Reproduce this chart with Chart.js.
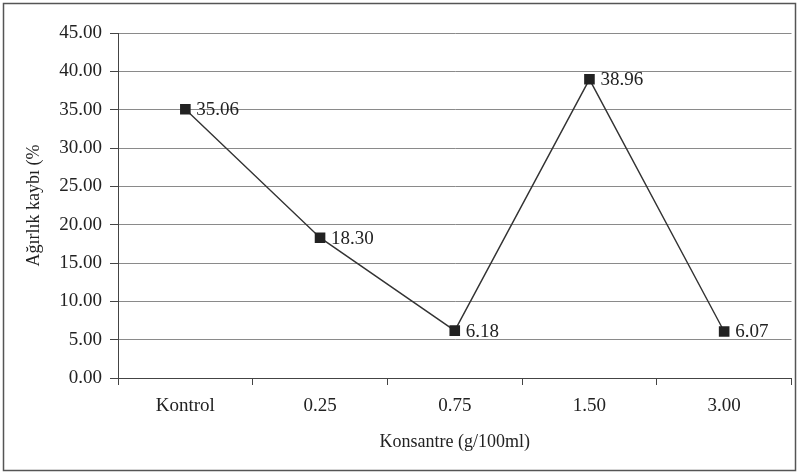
<!DOCTYPE html>
<html>
<head>
<meta charset="utf-8">
<script src="https://cdn.jsdelivr.net/npm/chart.js@4"></script>
<style>
  html, body { margin: 0; padding: 0; background: #fff; }
  #wrap { width: 799px; height: 476px; }
</style>
</head>
<body>
<div id="wrap"><canvas id="myChart" width="799" height="476"></canvas></div>
<script>
// chart data
const categories = ['Kontrol', '0.25', '0.75', '1.50', '3.00'];
const weightLoss = [35.06, 18.30, 6.18, 38.96, 6.07];
const yTicks = [0, 5, 10, 15, 20, 25, 30, 35, 40, 45];

const serif = "'Liberation Serif', 'DejaVu Serif', serif";
const textColor = '#222';

// value labels to the right of each point
const pointLabels = {
  id: 'pointLabels',
  afterDatasetsDraw(chart) {
    const ctx = chart.ctx;
    const meta = chart.getDatasetMeta(0);
    ctx.save();
    ctx.font = '19px ' + serif;
    ctx.fillStyle = textColor;
    ctx.textAlign = 'left';
    ctx.textBaseline = 'middle';
    meta.data.forEach(function (pt, i) {
      ctx.fillText(weightLoss[i].toFixed(2), pt.x + 11, pt.y + 1);
    });
    ctx.restore();
  }
};

// thin frame round the whole picture
const frame = {
  id: 'frame',
  afterDraw(chart) {
    const ctx = chart.ctx;
    ctx.save();
    ctx.strokeStyle = '#555';
    ctx.lineWidth = 1.5;
    ctx.strokeRect(3.5, 3.5, 792, 467);
    ctx.restore();
  }
};

var ctx = document.getElementById('myChart').getContext('2d');
var myChart = new Chart(ctx, {
  type: 'line',
  data: {
    labels: categories,
    datasets: [{
      data: weightLoss,
      borderColor: '#333',
      borderWidth: 1.4,
      pointStyle: 'rect',
      pointRadius: 7.5,
      pointBackgroundColor: '#222',
      pointBorderColor: '#222',
      pointBorderWidth: 0,
      tension: 0,
      fill: false
    }]
  },
  options: {
    responsive: false,
    animation: false,
    layout: { padding: { left: 0, right: 6, top: 33, bottom: 0 } },
    plugins: {
      legend: { display: false },
      tooltip: { enabled: false }
    },
    scales: {
      x: {
        offset: true,
        afterFit(scale) { scale.height = 98; },
        grid: {
          display: true,
          offset: true,
          drawOnChartArea: false,
          drawTicks: true,
          tickLength: 7,
          color: '#444'
        },
        border: { display: true, color: '#444', width: 1 },
        ticks: {
          color: textColor,
          font: { family: serif, size: 19 },
          padding: 10,
          maxRotation: 0
        },
        title: {
          display: true,
          text: 'Konsantre (g/100ml)',
          color: textColor,
          font: { family: serif, size: 18 },
          padding: { top: 0, bottom: 23 }
        }
      },
      y: {
        min: 0,
        max: 45,
        afterFit(scale) { scale.width = 118; },
        afterBuildTicks(scale) {
          scale.ticks = yTicks.map(function (v) { return { value: v }; });
        },
        grid: {
          color: '#8a8a8a',
          lineWidth: 1,
          drawTicks: true,
          tickLength: 8,
          tickColor: '#444'
        },
        border: { display: true, color: '#444', width: 1 },
        ticks: {
          color: textColor,
          font: { family: serif, size: 19 },
          padding: 8,
          callback: function (v) { return Number(v).toFixed(2); }
        },
        title: {
          display: true,
          text: 'Ağırlık kaybı (%',
          color: textColor,
          font: { family: serif, size: 18 },
          padding: { top: 23, bottom: 0 }
        }
      }
    }
  },
  plugins: [pointLabels, frame]
});
</script>
</body>
</html>
